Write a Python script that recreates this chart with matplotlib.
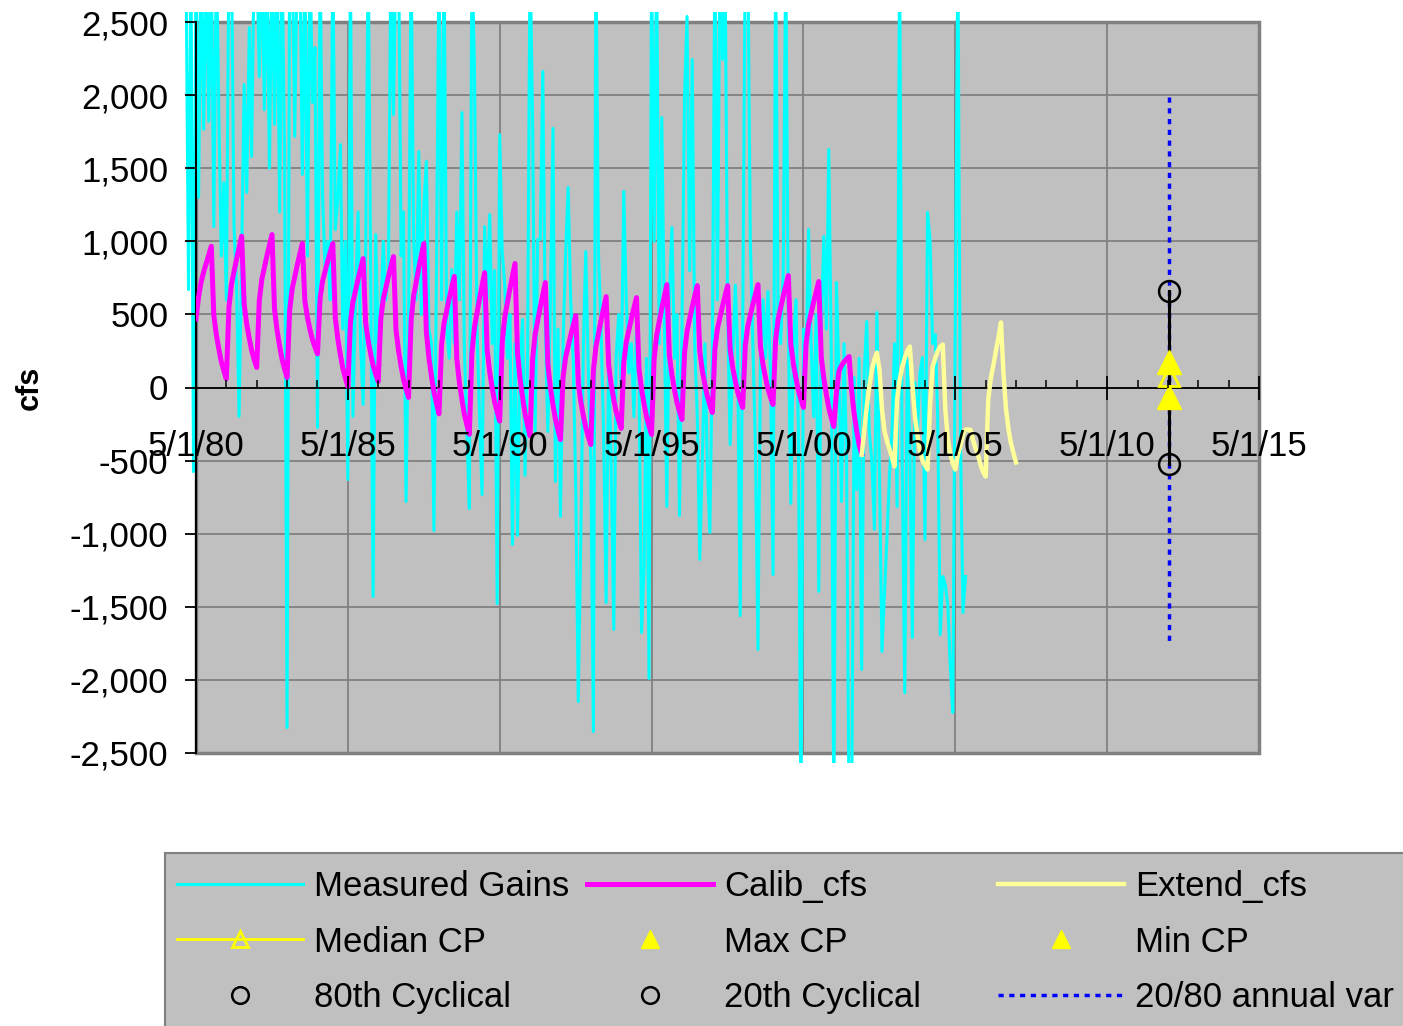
import numpy as np
import pandas as pd
import matplotlib
matplotlib.use("Agg")
import matplotlib.pyplot as plt
import matplotlib.dates as mdates
from matplotlib.ticker import FuncFormatter, MultipleLocator
from matplotlib.patches import Rectangle
from matplotlib.transforms import Bbox, TransformedBbox

plt.rcParams['font.family'] = ['Liberation Sans', 'DejaVu Sans']

# monthly measured gains, Jan 1980 .. Sep 2005 (values past +/-2500 run off the chart)
measured_gains = [
    3000, 670, 3000, -575, 3000, 1300, 3000, 1766, 3000, 1820, 3000, 1100,
    3000, 1820, 900, 1400, 600, 3000, 3000, 1100, 700, -198, 900, 2073,
    1334, 2462, 1580, 3000, 3000, 2127, 3000, 1900, 3000, 1500, 3000, 1800,
    3000, 1200, 3000, 1600, -2326, 3000, 3000, 1717, 3000, 3000, 1457, 3000,
    900, 3000, 1950, 2325, -274, 3000, 1300, 800, 1000, 600, 3000, 1080,
    1300, 1662, 400, 1000, -629, 3000, -198, 600, 1200, 300, -116, 900,
    3000, 700, -1430, 1046, 300, 500, 1000, 600, 800, 3000, 1867, 3000,
    3000, 900, 1200, -780, 500, 3000, 1000, 600, 1614, 500, 1252, 1546,
    400, 300, -978, 800, 3000, 600, 3000, 400, 200, 807, 300, 1200,
    600, 1881, 300, -300, -828, 3000, 2209, 400, -200, -732, 1101, 600,
    1183, 300, 800, -1478, 1730, 923, 700, 200, 500, -1074, 300, -1012,
    200, 465, -600, 200, 3000, 1812, -300, 1012, 1012, 2161, 400, -300,
    600, 1772, -643, 400, -882, 300, 900, 1368, 600, 200, -700, -2148,
    -1000, 300, 930, 100, -500, -2353, 3000, 910, 400, -300, -1471, 200,
    -540, -1655, 200, 500, 0, 1341, 600, 100, 300, -200, 400, 100,
    -1676, -1231, 200, -1990, 3000, 1000, 3000, 300, 1847, 500, -814, 600,
    1094, 200, 500, -876, 400, 1990, 2538, 800, 2244, 300, -200, -1176,
    -500, 300, -513, -992, 200, 3000, 600, 3000, 2244, 3000, 500, -390,
    200, 700, 260, -1560, 400, 3000, 3000, 1000, 300, -400, -1792, 200,
    600, 200, 657, 100, -1279, 3000, 500, 300, 800, 3000, 400, -793,
    300, 600, -300, -3000, 400, 200, 1080, 300, -200, 500, -1395, 400,
    1033, 400, 1628, 200, -3000, 718, 100, -780, 300, -500, -3000, -3000,
    68, -700, 200, -1929, 100, 451, -300, -500, -971, 513, -600, -1806,
    -1400, -1000, -600, -300, 300, -814, 3000, -500, -2087, 200, -400, -1710,
    34, -300, 100, 205, -1040, 1197, 1012, 300, 362, -200, -1690, -1293,
    -1350, -1500, -1900, -2223, 500, 3000, -300, -1539, -1293,
]

# monthly calibrated flows, May 1980 .. Apr 2002
calib_cfs = [
    470, 620, 720, 790, 850, 910, 966, 495, 359, 259, 178, 114,
    60, 548, 704, 791, 879, 957, 1035, 568, 433, 335, 254, 191,
    137, 592, 737, 819, 901, 973, 1046, 537, 391, 283, 195, 127,
    68, 527, 673, 756, 838, 912, 985, 592, 479, 396, 328, 275,
    230, 608, 728, 796, 864, 925, 985, 476, 330, 222, 134, 66,
    7, 445, 585, 663, 742, 812, 882, 445, 319, 226, 150, 91,
    41, 469, 605, 682, 759, 828, 896, 395, 250, 144, 57, -10,
    -68, 459, 627, 722, 817, 901, 985, 379, 204, 76, -29, -110,
    -180, 290, 440, 525, 610, 685, 760, 198, 36, -82, -180, -255,
    -320, 233, 410, 510, 609, 698, 786, 258, 105, -6, -98, -169,
    -230, 309, 481, 579, 676, 762, 848, 235, 59, -71, -177, -259,
    -330, 194, 362, 456, 550, 634, 718, 160, -2, -120, -216, -292,
    -356, 68, 204, 280, 356, 424, 492, 33, -99, -196, -275, -337,
    -390, 116, 278, 369, 460, 541, 622, 153, 18, -82, -163, -226,
    -280, 168, 311, 391, 472, 543, 615, 128, -12, -115, -199, -265,
    -321, 192, 356, 448, 540, 622, 704, 224, 86, -16, -99, -164,
    -219, 239, 386, 468, 550, 624, 697, 246, 115, 20, -58, -119,
    -171, 263, 402, 480, 558, 628, 697, 263, 138, 46, -29, -87,
    -137, 284, 418, 494, 570, 637, 704, 278, 155, 64, -9, -67,
    -116, 325, 466, 546, 625, 695, 766, 296, 161, 62, -20, -83,
    -137, 294, 432, 510, 587, 656, 725, 209, 60, -49, -138, -207,
    -267, -40, 110, 150, 175, 195, 212, -20, -180, -300, -390, -455,
]

# monthly extended flows, Apr 2002 .. May 2007
extend_cfs = [
    -460, -300, -130, 0, 120, 190, 239, 120, -150, -300, -370, -420,
    -480, -540, -80, 50, 140, 200, 250, 280, 30, -200, -330, -430,
    -500, -530, -561, -120, 140, 200, 250, 280, 294, -150, -360, -450,
    -520, -561, -460, -400, -320, -287, -287, -290, -360, -420, -470, -530,
    -580, -609, -82, 60, 150, 250, 340, 445, 100, -150, -290, -380,
    -450, -513,
]

cp_date = pd.Timestamp('2012-05-15')
median_cp = 80
max_cp = 175
min_cp = -65
cyc_80 = 657
cyc_20 = -520
annual_var = [1985, -1760]

gains_dates = pd.date_range('1980-01-01', periods=len(measured_gains), freq='MS')
calib_dates = pd.date_range('1980-05-01', periods=len(calib_cfs), freq='MS')
extend_dates = pd.date_range('2002-04-01', periods=len(extend_cfs), freq='MS')

fig = plt.figure(figsize=(14.03, 10.26), dpi=100)
rect = [196 / 1403, 1 - 753 / 1026, 1063 / 1403, 731 / 1026]

# background axes: grey plot area, border and gridlines under the data
ax_bg = fig.add_axes(rect)
ax = fig.add_axes(rect, sharex=ax_bg, sharey=ax_bg)

ax_bg.set_facecolor('#C0C0C0')
ax_bg.patch.set_edgecolor('#808080')
ax_bg.patch.set_linewidth(2.5)
for s in ax_bg.spines.values():
    s.set_visible(False)
ax_bg.grid(True, which='major', color='#808080', lw=1.3)
ax_bg.tick_params(which='both', length=0, labelbottom=False, labelleft=False)

ax.patch.set_visible(False)

l_gain, = ax.plot(gains_dates, measured_gains, color='#00FFFF', lw=2.2, zorder=2)
l_cal, = ax.plot(calib_dates, calib_cfs, color='#FF00FF', lw=3.6, zorder=3)
l_ext, = ax.plot(extend_dates, extend_cfs, color='#FFFF99', lw=3.2, zorder=3)

# Excel lets the spikes run a little past the plot area
x0 = mdates.date2num(pd.Timestamp('1979-06-01'))
x1 = mdates.date2num(pd.Timestamp('2016-01-01'))
clip = TransformedBbox(Bbox.from_extents(x0, -2570, x1, 2570), ax.transData)
l_gain.set_clip_path(None)
l_gain.set_clip_box(clip)

l_var, = ax.plot([cp_date, cp_date], annual_var, color='#0000FF', lw=2.5,
                 linestyle=(0, (1.5, 1.6)), zorder=4)
ax.plot([cp_date, cp_date], [cyc_80, cyc_20], color='black', lw=2.2, zorder=5)
l_80, = ax.plot([cp_date], [cyc_80], linestyle='none', marker='o', ms=15,
                mfc='none', mec='black', mew=1.8, zorder=6)
l_20, = ax.plot([cp_date], [cyc_20], linestyle='none', marker='o', ms=15,
                mfc='none', mec='black', mew=1.8, zorder=6)
l_max, = ax.plot([cp_date], [max_cp], linestyle='none', marker='^', ms=17,
                 color='#FFFF00', zorder=7)
l_min, = ax.plot([cp_date], [min_cp], linestyle='none', marker='^', ms=17,
                 color='#FFFF00', zorder=7)
l_med, = ax.plot([cp_date], [median_cp], color='#FFFF00', lw=2, marker='^', ms=14,
                 mfc='none', mec='#FFFF00', mew=2, zorder=8)

ax.set_xlim(pd.Timestamp('1980-05-01'), pd.Timestamp('2015-05-01'))
ax.set_ylim(-2500, 2500)

ax.xaxis.set_major_locator(mdates.YearLocator(5, month=5, day=1))
ax.xaxis.set_minor_locator(mdates.YearLocator(1, month=5, day=1))
ax.xaxis.set_major_formatter(FuncFormatter(
    lambda v, p: (lambda d: f"{d.month}/{d.day}/{d:%y}")(mdates.num2date(v))))
ax.yaxis.set_major_locator(MultipleLocator(500))
ax.yaxis.set_major_formatter(FuncFormatter(lambda v, p: f"{int(v):,}"))

ax.set_axisbelow(False)
ax.xaxis.set_zorder(10)
for s in ['top', 'right']:
    ax.spines[s].set_visible(False)
ax.spines['bottom'].set_position(('data', 0))
ax.spines['bottom'].set_color('black')
ax.spines['bottom'].set_linewidth(1.3)
ax.spines['bottom'].set_zorder(2.5)
ax.spines['left'].set_color('black')
ax.spines['left'].set_linewidth(1.5)

ax.tick_params(axis='y', direction='out', length=8, width=1.3, labelsize=25, pad=12)
ax.tick_params(axis='x', which='major', direction='inout', length=17, width=1.3,
               labelsize=25, pad=22)
ax.tick_params(axis='x', which='minor', direction='in', length=6, width=1.1)

fig.text(30 / 1403, 1 - 388 / 1026, 'cfs', rotation=90, fontsize=22,
         fontweight='bold', ha='center', va='center')

# legend box, Excel style, three columns of equal width
fig.add_artist(Rectangle((165 / 1403, -0.05), 1.0, 0.05 + (1026 - 853) / 1026,
                         transform=fig.transFigure, fc='#C0C0C0', ec='#808080',
                         lw=1.5, zorder=0))
columns = [
    ([l_gain, l_med, l_80], ['Measured Gains', 'Median CP', '80th Cyclical'], 177),
    ([l_cal, l_max, l_20], ['Calib_cfs', 'Max CP', '20th Cyclical'], 587),
    ([l_ext, l_min, l_var], ['Extend_cfs', 'Min CP', '20/80 annual var'], 998),
]
for handles, labels, xpx in columns:
    fig.legend(handles, labels, loc='upper left',
               bbox_to_anchor=(xpx / 1403, (1026 - 870) / 1026),
               frameon=False, fontsize=25, borderpad=0, borderaxespad=0,
               handlelength=3.63, handletextpad=0.32, labelspacing=0.65,
               markerscale=0.8)

fig.savefig('out.png', dpi=100)
